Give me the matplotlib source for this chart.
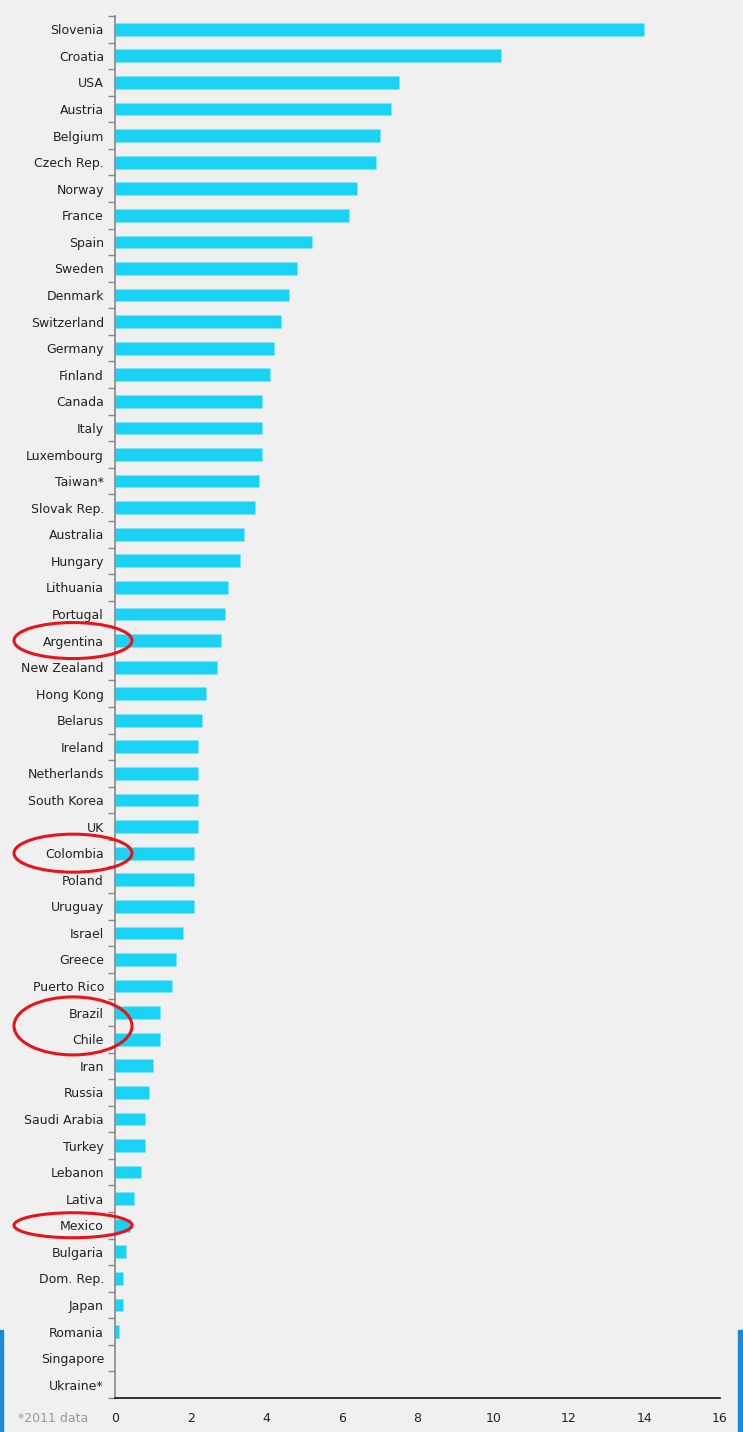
import numpy as np
import matplotlib
matplotlib.use("Agg")
import matplotlib.pyplot as plt
from matplotlib.patches import Ellipse, Rectangle

countries = ["Slovenia", "Croatia", "USA", "Austria", "Belgium", "Czech Rep.", "Norway",
             "France", "Spain", "Sweden", "Denmark", "Switzerland", "Germany", "Finland",
             "Canada", "Italy", "Luxembourg", "Taiwan*", "Slovak Rep.", "Australia",
             "Hungary", "Lithuania", "Portugal", "Argentina", "New Zealand", "Hong Kong",
             "Belarus", "Ireland", "Netherlands", "South Korea", "UK", "Colombia", "Poland",
             "Uruguay", "Israel", "Greece", "Puerto Rico", "Brazil", "Chile", "Iran",
             "Russia", "Saudi Arabia", "Turkey", "Lebanon", "Lativa", "Mexico", "Bulgaria",
             "Dom. Rep.", "Japan", "Romania", "Singapore", "Ukraine*"]
values = [14.0, 10.2, 7.5, 7.3, 7.0, 6.9, 6.4,
          6.2, 5.2, 4.8, 4.6, 4.4, 4.2, 4.1,
          3.9, 3.9, 3.9, 3.8, 3.7, 3.4,
          3.3, 3.0, 2.9, 2.8, 2.7, 2.4,
          2.3, 2.2, 2.2, 2.2, 2.2, 2.1, 2.1,
          2.1, 1.8, 1.6, 1.5, 1.2, 1.2, 1.0,
          0.9, 0.8, 0.8, 0.7, 0.5, 0.4, 0.3,
          0.2, 0.2, 0.1, 0.0, 0.0]
xticks = [0, 2, 4, 6, 8, 10, 12, 14, 16]
circled = [["Argentina"], ["Colombia"], ["Brazil", "Chile"], ["Mexico"]]
footnote = "*2011 data"

bg = "#f0f0f0"
fig = plt.figure(figsize=(7.43, 14.32), dpi=100, facecolor=bg)
ax = fig.add_axes([115/743, 1-1398/1432, 605/743, (1398-16)/1432])
ax.set_facecolor(bg)

y = np.arange(len(countries))
ax.barh(y, values, height=0.48, color="#1ad3f4", edgecolor="#7fe6f8", linewidth=0.4)
ax.set_ylim(len(countries)-0.5, -0.5)
ax.set_xlim(0, 16)

ax.set_yticks(y)
ax.set_yticklabels(countries, fontsize=9, color="#222222")
ax.tick_params(axis="y", which="major", length=0, pad=8)
ax.set_yticks(np.arange(len(countries)+1)-0.5, minor=True)
ax.tick_params(axis="y", which="minor", length=5, width=1, color="#888888", direction="out")

ax.set_xticks(xticks)
ax.set_xticklabels([str(t) for t in xticks], fontsize=9, color="#222222")
ax.tick_params(axis="x", length=0, pad=10)

for s in ["top", "right"]:
    ax.spines[s].set_visible(False)
ax.spines["left"].set_color("#888888")
ax.spines["left"].set_linewidth(1.2)
ax.spines["bottom"].set_color("#111111")
ax.spines["bottom"].set_linewidth(1.2)

fig.text(18/743, 1-1418/1432, footnote, fontsize=9, color="#999999", va="center", ha="left")

# red ellipses around highlighted labels
fig.canvas.draw()
inv = fig.transFigure.inverted()
for group in circled:
    idx = [countries.index(c) for c in group]
    yc = np.mean(idx)
    _, py = ax.transData.transform((0, yc))
    cy = inv.transform((0, py))[1]
    h = (25 + 33*(len(idx)-1)) / 1432
    if group == ["Argentina"]:
        h = 36/1432
    elif group == ["Colombia"]:
        h = 38/1432
    fig.patches.append(Ellipse((73/743, cy), 118/743, h, transform=fig.transFigure,
                               fill=False, edgecolor="#e8141c", linewidth=2.2, zorder=10))

# blue edge strips at the bottom of the screenshot
fig.patches.append(Rectangle((0, 0), 3/743, 102/1432, transform=fig.transFigure,
                             color="#1e88d6", zorder=5))
fig.patches.append(Rectangle((738/743, 0), 5/743, 102/1432, transform=fig.transFigure,
                             color="#1e88d6", zorder=5))

fig.savefig("out.png", dpi=100, facecolor=bg)
